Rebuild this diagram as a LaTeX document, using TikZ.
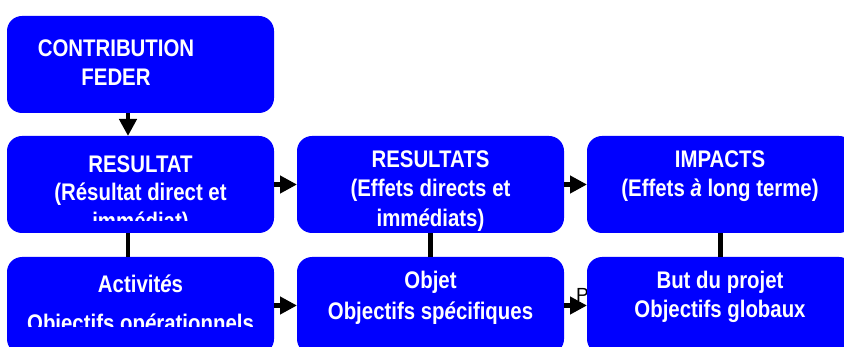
\documentclass[tikz,border=0pt]{standalone}
\usepackage{fontspec}
\setmainfont{Liberation Sans}
\newfontfamily\boxfont[FakeStretch=0.85]{Liberation Sans}
\usetikzlibrary{arrows.meta}
\definecolor{boxblue}{RGB}{0,0,255}
\begin{document}
\begin{tikzpicture}[x=1pt,y=-1pt,
  panel/.style={fill=boxblue, rounded corners=15pt, minimum width=267pt,
    minimum height=97pt, inner sep=0pt, outer sep=0pt},
  boxtext/.style={anchor=base, text=white, inner sep=0pt,
    font=\boxfont\bfseries\fontsize{24}{29}\selectfont},
  link/.style={line width=4.5pt, draw=black},
  flow/.style={link, -{Triangle[length=17pt,width=17pt]}}]
\useasboundingbox (0,0) rectangle (844,347);
\clip (0,0) rectangle (844,347);

% stray label partly hidden behind the right-hand box
\node[anchor=base west, inner sep=0pt, font=\fontsize{19}{19}\selectfont] (plabel) at (576,302) {P};

% boxes
\node[panel] (contrib) at (140.5,64.5) {};
\node[panel] (resA) at (140.5,184.5) {};
\node[panel] (resB) at (430.5,184.5) {};
\node[panel] (resC) at (720.5,184.5) {};
\node[panel] (actA) at (140.5,305.5) {};
\node[panel] (objB) at (430.5,305.5) {};
\node[panel] (butC) at (720.5,305.5) {};

% connectors
\draw[flow] ([xshift=-12.5pt]contrib.south) -- ([xshift=-12.5pt]resA.north);
\draw[link] ([xshift=-12.5pt]resA.south) -- ([xshift=-12.5pt]actA.north);
\draw[link] (resB.south) -- (objB.north);
\draw[link] (resC.south) -- (butC.north);
\draw[flow] (resA.east) -- (resB.west);
\draw[flow] (resB.east) -- (resC.west);
\draw[flow] (actA.east) -- (objB.west);
\draw[flow] (objB.east) -- (butC.west);

% texts
\node[boxtext] (contrib1) at (116,56.7) {CONTRIBUTION};
\node[boxtext] (contrib2) at (116,85.7) {FEDER};

\node[boxtext] (resA1) at (140.5,172.7) {RESULTAT};
\node[boxtext] (resA2) at (140.5,201) {(Résultat direct et};
\begin{scope}
  \clip (7,136) rectangle (274,221);
  \node[boxtext] (resA3) at (140.5,230) {immédiat)};
\end{scope}

\node[boxtext] (resB1) at (430.5,167.3) {RESULTATS};
\node[boxtext] (resB2) at (430.5,196.7) {(Effets directs et};
\node[boxtext] (resB3) at (430.5,226.7) {imm\textit{é}diats)};

\node[boxtext] (resC1) at (720,167.7) {IMPACTS};
\node[boxtext] (resC2) at (720,197) {(Effets \textit{à} long terme)};

\node[boxtext] (actA1) at (140.5,292.3) {Activit\textit{é}s};
\begin{scope}
  \clip (7,257) rectangle (274,326.7);
  \node[boxtext] (actA2) at (140.5,332) {Objectifs op\textit{é}rationnels};
\end{scope}

\node[boxtext] (objB1) at (430.5,288.3) {Objet};
\node[boxtext] (objB2) at (430.5,320) {Objectifs sp\textit{é}cifiques};

\node[boxtext] (butC1) at (720,288.3) {But du projet};
\node[boxtext] (butC2) at (720,317.3) {Objectifs globaux};
\end{tikzpicture}
\end{document}
